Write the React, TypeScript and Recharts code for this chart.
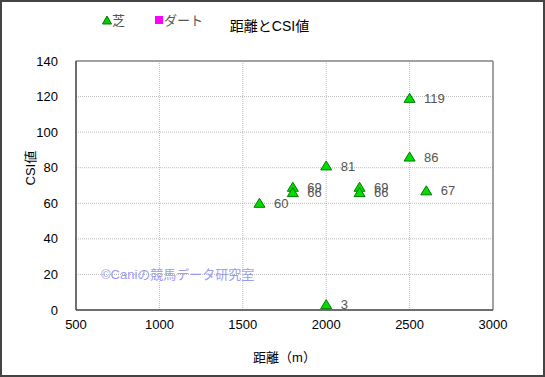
import { ScatterChart, Scatter, XAxis, YAxis, CartesianGrid, ReferenceLine, LabelList, Legend } from 'recharts'

const distances = [1600, 1800, 1800, 2000, 2000, 2200, 2200, 2500, 2500, 2600]
const csiValues = [60, 69, 66, 81, 3, 69, 66, 119, 86, 67]
const xTicks = [500, 1000, 1500, 2000, 2500, 3000]
const yTicks = [0, 20, 40, 60, 80, 100, 120, 140]
const seriesNames = ['芝', 'ダート']

const turf = distances.map((d, i) => ({ x: d, y: csiValues[i] }))
const dirt: { x: number; y: number }[] = []

const FONT = '"Liberation Sans", Arial, "Noto Sans CJK JP", sans-serif'

const Triangle = (props: any) => {
  const { cx, cy } = props
  if (cx == null || cy == null) return null
  return (
    <path
      d={`M${cx},${cy - 5} L${cx + 5.5},${cy + 4} L${cx - 5.5},${cy + 4} Z`}
      fill="#00dd00"
      stroke="#007a00"
      strokeWidth={1}
    />
  )
}

const LegendBox = () => (
  <div style={{ display: 'flex', fontFamily: FONT, fontSize: 13, color: '#555' }}>
    <span style={{ marginLeft: 102, display: 'flex', alignItems: 'center' }}>
      <svg width={10} height={10}><path d="M5,1 L9.5,9 L0.5,9 Z" fill="#00cc00" stroke="#007a00" /></svg>
      {seriesNames[0]}
    </span>
    <span style={{ marginLeft: 30, display: 'flex', alignItems: 'center' }}>
      <svg width={9} height={10}><rect x={0} y={1} width={8} height={8} fill="#ff00ff" /></svg>
      {seriesNames[1]}
    </span>
  </div>
)

export default function App() {
  return (
    <div style={{ position: 'absolute', left: 0, top: 0, width: 545, height: 377, boxSizing: 'border-box', border: '2px solid #444', background: '#fff', overflow: 'hidden' }}>
      <div style={{ position: 'absolute', left: -2, top: -2 }}>
        <ScatterChart width={545} height={377} margin={{ top: 42, right: 52, bottom: 0, left: 0 }}>
          <CartesianGrid stroke="#bbb" strokeDasharray="1 1" />
          <XAxis
            type="number"
            dataKey="x"
            domain={[500, 3000]}
            ticks={xTicks}
            height={67}
            tickLine={false}
            axisLine={{ stroke: '#444', strokeWidth: 1.5 }}
            tick={{ fill: '#000', fontSize: 13, fontFamily: FONT }}
            tickMargin={4}
            label={{ value: '距離（m）', position: 'insideBottom', offset: 15, fill: '#000', fontSize: 13, fontFamily: FONT }}
          />
          <YAxis
            type="number"
            dataKey="y"
            domain={[0, 140]}
            ticks={yTicks}
            width={76}
            tickLine={false}
            axisLine={{ stroke: '#444', strokeWidth: 1.5 }}
            tick={{ fill: '#000', fontSize: 13, fontFamily: FONT }}
            tickMargin={12}
            label={{ value: 'CSI値', angle: -90, position: 'insideLeft', offset: 30, fill: '#000', fontSize: 13, fontFamily: FONT }}
          />
          <ReferenceLine y={140} stroke="#888" strokeWidth={1.5} />
          <ReferenceLine x={3000} stroke="#888" strokeWidth={1.5} />
          <Legend verticalAlign="top" align="left" wrapperStyle={{ top: 10, left: 0 }} content={<LegendBox />} />
          <Scatter name={seriesNames[0]} data={turf} shape={<Triangle />} isAnimationActive={false}>
            <LabelList dataKey="y" position="right" offset={10} fill="#555" fontSize={13} fontFamily={FONT} />
          </Scatter>
          <Scatter name={seriesNames[1]} data={dirt} fill="#ff00ff" isAnimationActive={false} />
        </ScatterChart>
      </div>
      <div style={{ position: 'absolute', left: 0, width: 535, top: 13, textAlign: 'center', fontFamily: FONT, fontSize: 14, color: '#000' }}>
        距離とCSI値
      </div>
      <div style={{ position: 'absolute', left: 99, top: 262, fontFamily: FONT, fontSize: 13, color: '#9b9bf5' }}>
        ©Caniの競馬データ研究室
      </div>
    </div>
  )
}
